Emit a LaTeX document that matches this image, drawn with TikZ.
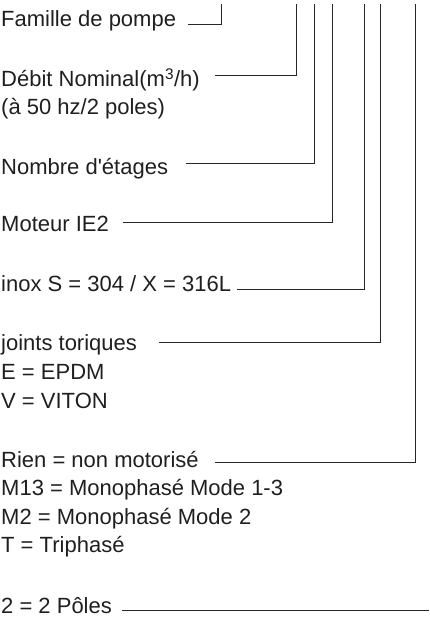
\documentclass[tikz,border=0pt]{standalone}
\usepackage{fontspec}
\setmainfont{Liberation Sans}
\begin{document}
\begin{tikzpicture}[x=1pt,y=-1pt,
  lbl/.style={anchor=base west,inner sep=0pt,text=black!88,font=\fontsize{22}{28.5}\selectfont},
  conn/.style={draw=black!85,line width=1pt}]
\useasboundingbox (0,0) rectangle (429,617);
% labels
\node[lbl] (famille) at (1,27) {Famille de pompe};
\node[lbl] (debit) at (1,87) {Débit Nominal(m\textsuperscript{3}/h)};
\node[lbl] (debitb) at (1,115) {(à 50 hz/2 poles)};
\node[lbl] (etages) at (1,175) {Nombre d\textquotesingle étages};
\node[lbl] (moteur) at (1,232) {Moteur IE2};
\node[lbl] (inox) at (1,291) {inox S = 304 / X = 316L};
\node[lbl] (joints) at (1,350) {joints toriques};
\node[lbl] (jointse) at (1,379) {E = EPDM};
\node[lbl] (jointsv) at (1,408) {V = VITON};
\node[lbl] (rien) at (1,467) {Rien = non motorisé};
\node[lbl] (mtreize) at (1,495.5) {M13 = Monophasé Mode 1-3};
\node[lbl] (mdeux) at (1,524) {M2 = Monophasé Mode 2};
\node[lbl] (tri) at (1,552.5) {T = Triphasé};
\node[lbl] (poles) at (1,613) {2 = 2 Pôles};
% connector ends
\coordinate (fa1) at (188,25);   \coordinate (fa2) at (221.5,4);
\coordinate (de1) at (215,76);   \coordinate (de2) at (296,4);
\coordinate (et1) at (186,164);  \coordinate (et2) at (314,4);
\coordinate (mo1) at (123,223);  \coordinate (mo2) at (332,4);
\coordinate (in1) at (237,289);  \coordinate (in2) at (364.5,4);
\coordinate (jo1) at (159,342);  \coordinate (jo2) at (380,4);
\coordinate (ri1) at (215,462);  \coordinate (ri2) at (415,4);
\coordinate (po1) at (122,610);  \coordinate (po2) at (429,610);
% connectors
\draw[conn] (fa1) -| (fa2);
\draw[conn] (de1) -| (de2);
\draw[conn] (et1) -| (et2);
\draw[conn] (mo1) -| (mo2);
\draw[conn] (in1) -| (in2);
\draw[conn] (jo1) -| (jo2);
\draw[conn] (ri1) -| (ri2);
\draw[conn] (po1) -- (po2);
\end{tikzpicture}
\end{document}
